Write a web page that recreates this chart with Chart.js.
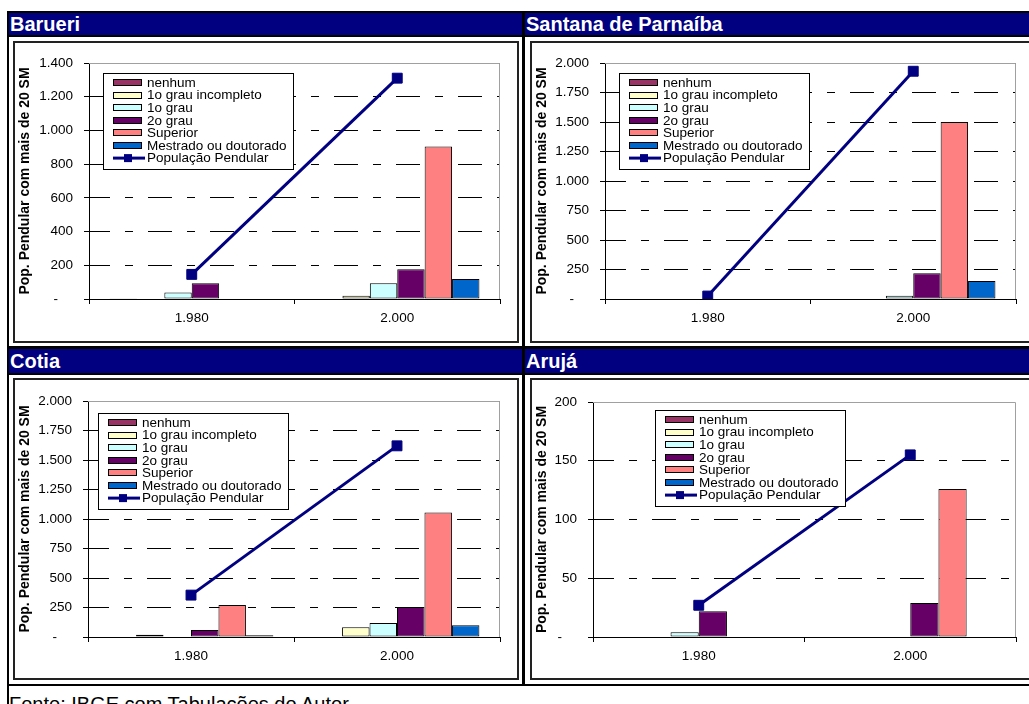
<!DOCTYPE html>
<html lang="pt-BR">
<head>
<meta charset="utf-8">
<title>População pendular com mais de 20 SM</title>
<script src="https://cdn.jsdelivr.net/npm/chart.js@4.4.1/dist/chart.umd.min.js"></script>
<style>
  html, body { margin: 0; padding: 0; background: #fff; }
  body { width: 1029px; height: 704px; position: relative; overflow: hidden; font-family: "Liberation Sans", Arial, sans-serif; }
  .linha { position: absolute; background: #000; }
  .titulo { position: absolute; background: #000080; color: #fff; font-weight: bold; font-size: 20px; padding-left: 1px; box-sizing: border-box; white-space: nowrap; overflow: hidden; }
  .quadro { position: absolute; border: 2px solid #222; box-sizing: border-box; background: #fff; }
  canvas { position: absolute; }
  .fonte { position: absolute; left: 9px; top: 694px; font-size: 20px; line-height: 20px; white-space: nowrap; color: #000; }
</style>
</head>
<body>

<!-- grade da tabela -->
<div class="linha" style="left:7px;top:11px;width:1022px;height:2px"></div>
<div class="linha" style="left:7px;top:35px;width:1022px;height:2px"></div>
<div class="linha" style="left:7px;top:346px;width:1022px;height:3px"></div>
<div class="linha" style="left:7px;top:373px;width:1022px;height:2px"></div>
<div class="linha" style="left:7px;top:684px;width:1022px;height:2px"></div>
<div class="linha" style="left:7px;top:11px;width:2px;height:693px"></div>
<div class="linha" style="left:522px;top:11px;width:3px;height:675px"></div>

<div class="titulo" style="left:9px;top:13px;width:513px;height:22px;line-height:22px">Barueri</div>
<div class="titulo" style="left:525px;top:13px;width:504px;height:22px;line-height:22px">Santana de Parnaíba</div>
<div class="titulo" style="left:9px;top:349px;width:513px;height:24px;line-height:24px">Cotia</div>
<div class="titulo" style="left:525px;top:349px;width:504px;height:24px;line-height:24px">Arujá</div>

<div class="quadro" style="left:13px;top:41px;width:506px;height:302px"></div>
<div class="quadro" style="left:530px;top:41px;width:502px;height:302px"></div>
<div class="quadro" style="left:13px;top:378px;width:506px;height:302px"></div>
<div class="quadro" style="left:530px;top:378px;width:502px;height:302px"></div>

<canvas id="barueri" width="502" height="298" style="left:15px;top:43px"></canvas>
<canvas id="santana" width="497" height="298" style="left:532px;top:43px"></canvas>
<canvas id="cotia" width="502" height="298" style="left:15px;top:380px"></canvas>
<canvas id="aruja" width="497" height="298" style="left:532px;top:380px"></canvas>

<div class="fonte">Fonte: IBGE com Tabulações do Autor</div>

<script>
// categorias e séries
var anos = ['1.980', '2.000'];
var escolaridade = ['nenhum', '1o grau incompleto', '1o grau', '2o grau', 'Superior', 'Mestrado ou doutorado'];
var nomeLinha = 'População Pendular';

// valores por ano, na ordem de "escolaridade"
var barueri1980 = [5, 0, 38, 93, 0, 0];
var barueri2000 = [0, 20, 93, 176, 905, 119];
var barueriPendular = [146, 1310];

var santana1980 = [0, 0, 0, 4, 4, 0];
var santana2000 = [5, 5, 28, 218, 1500, 153];
var santanaPendular = [25, 1930];

var cotia1980 = [0, 20, 0, 59, 271, 15];
var cotia2000 = [0, 82, 118, 254, 1055, 99];
var cotiaPendular = [355, 1620];

var aruja1980 = [0, 0, 4, 22, 0, 0];
var aruja2000 = [0, 0, 0, 29, 126, 0];
var arujaPendular = [27, 155];

// eixo y: máximo e intervalo
var maxBarueri = 1400, passoBarueri = 200;
var maxSantana = 2000, passoSantana = 250;
var maxCotia = 2000, passoCotia = 250;
var maxAruja = 200, passoAruja = 50;

var coresBarras = ['#993366', '#FFFFCC', '#CCFFFF', '#660066', '#FF8080', '#0066CC'];
var corLinha = '#000080';
var fonte = '"Liberation Sans", Arial, sans-serif';

function milhar(v) {
    if (v === 0) return '-    ';
    return String(v).replace(/\B(?=(\d{3})+(?!\d))/g, '.');
}

// moldura cinza da área de plotagem (topo e direita)
var moldura = {
    id: 'moldura',
    beforeDatasetsDraw: function (chart) {
        var a = chart.chartArea, ctx = chart.ctx;
        ctx.save();
        ctx.strokeStyle = '#a0a0a0';
        ctx.lineWidth = 1;
        ctx.beginPath();
        ctx.moveTo(a.left, Math.round(a.top) + 0.5);
        ctx.lineTo(Math.round(a.right) - 0.5, Math.round(a.top) + 0.5);
        ctx.lineTo(Math.round(a.right) - 0.5, a.bottom);
        ctx.stroke();
        ctx.restore();
    }
};

// legenda no estilo do Excel, dentro da área do gráfico
var legenda = {
    id: 'legenda',
    afterDraw: function (chart, args, opts) {
        var ctx = chart.ctx;
        var x0 = Math.round(chart.chartArea.left + opts.dx);
        var y0 = Math.round(chart.chartArea.top + opts.dy);
        var w = 190, h = 96;
        ctx.save();
        ctx.fillStyle = '#fff';
        ctx.fillRect(x0, y0, w, h);
        ctx.strokeStyle = '#000';
        ctx.lineWidth = 1;
        ctx.strokeRect(x0 + 0.5, y0 + 0.5, w, h);
        ctx.font = '13.5px ' + fonte;
        ctx.textBaseline = 'middle';
        chart.data.datasets.forEach(function (ds, i) {
            var cy = y0 + 9.5 + i * 12.6;
            var sx = x0 + 10;
            if (ds.type === 'line') {
                ctx.strokeStyle = ds.borderColor;
                ctx.lineWidth = 3;
                ctx.beginPath();
                ctx.moveTo(sx, cy);
                ctx.lineTo(sx + 32, cy);
                ctx.stroke();
                ctx.fillStyle = ds.borderColor;
                ctx.fillRect(sx + 11, cy - 4, 8, 8);
            } else {
                var ty = Math.round(cy - 3.5);
                ctx.fillStyle = ds.backgroundColor;
                ctx.fillRect(sx, ty, 29, 7);
                ctx.strokeStyle = '#000';
                ctx.lineWidth = 1;
                ctx.strokeRect(sx + 0.5, ty + 0.5, 28, 6);
            }
            ctx.fillStyle = '#000';
            ctx.fillText(ds.label, sx + 34, cy + 0.5);
        });
        ctx.restore();
    }
};

function grafico(id, v1980, v2000, pendular, maximo, passo, area, posLegenda) {
    var datasets = escolaridade.map(function (nome, i) {
        return {
            type: 'bar',
            label: nome,
            data: [v1980[i], v2000[i]],
            backgroundColor: coresBarras[i],
            borderColor: '#000',
            borderWidth: function (c) { return c.raw ? 1 : 0; },
            borderSkipped: false,
            categoryPercentage: 0.8,
            barPercentage: 1.0,
            order: 1
        };
    });
    datasets.push({
        type: 'line',
        label: nomeLinha,
        data: pendular,
        borderColor: corLinha,
        backgroundColor: corLinha,
        borderWidth: 3,
        pointStyle: 'rect',
        pointRadius: 7,
        pointBackgroundColor: corLinha,
        pointBorderColor: corLinha,
        pointBorderWidth: 1,
        fill: false,
        tension: 0,
        order: 0
    });

    var tickFont = { family: fonte, size: 13.5 };

    return new Chart(document.getElementById(id), {
        type: 'bar',
        data: { labels: anos, datasets: datasets },
        options: {
            responsive: false,
            animation: false,
            devicePixelRatio: 1,
            layout: { padding: { left: 0, top: area.top, right: area.right, bottom: 0 } },
            scales: {
                x: {
                    offset: true,
                    grid: { offset: true, drawOnChartArea: false, drawTicks: true, tickLength: 5, color: '#000', tickColor: '#000' },
                    border: { display: true, color: '#000', width: 1 },
                    ticks: { color: '#000', font: tickFont, padding: 6, maxRotation: 0 },
                    afterFit: function (s) { s.height = area.bottom; }
                },
                y: {
                    min: 0,
                    max: maximo,
                    ticks: {
                        stepSize: passo,
                        color: '#000',
                        font: tickFont,
                        padding: 11,
                        callback: function (v) { return milhar(v); }
                    },
                    grid: {
                        color: function (c) {
                            if (!c.tick) return '#000';
                            if (c.tick.value === 0) return 'rgba(0,0,0,0)';
                            if (c.tick.value === maximo) return '#808080';
                            return '#000';
                        },
                        lineWidth: 1,
                        drawTicks: true,
                        tickLength: 5,
                        tickColor: '#000',
                        tickBorderDash: []
                    },
                    border: { display: true, color: '#000', width: 1, dash: [24, 15, 8, 15], dashOffset: 4 },
                    title: {
                        display: true,
                        text: 'Pop. Pendular com mais de 20 SM',
                        color: '#000',
                        font: { family: fonte, size: 14, weight: 'bold' },
                        padding: { top: 2, bottom: 0 }
                    },
                    afterFit: function (s) { s.width = area.left; }
                }
            },
            plugins: {
                legend: { display: false },
                tooltip: { enabled: false },
                legenda: posLegenda
            }
        },
        plugins: [moldura, legenda]
    });
}

grafico('barueri', barueri1980, barueri2000, barueriPendular, maxBarueri, passoBarueri,
    { left: 74, top: 20, right: 17, bottom: 42 }, { dx: 14, dy: 10 });
grafico('santana', santana1980, santana2000, santanaPendular, maxSantana, passoSantana,
    { left: 73, top: 20, right: 13, bottom: 42 }, { dx: 14, dy: 10 });
grafico('cotia', cotia1980, cotia2000, cotiaPendular, maxCotia, passoCotia,
    { left: 73, top: 21, right: 17, bottom: 41 }, { dx: 10, dy: 12 });
grafico('aruja', aruja1980, aruja2000, arujaPendular, maxAruja, passoAruja,
    { left: 61, top: 22, right: 13, bottom: 41 }, { dx: 62, dy: 8 });
</script>
</body>
</html>
